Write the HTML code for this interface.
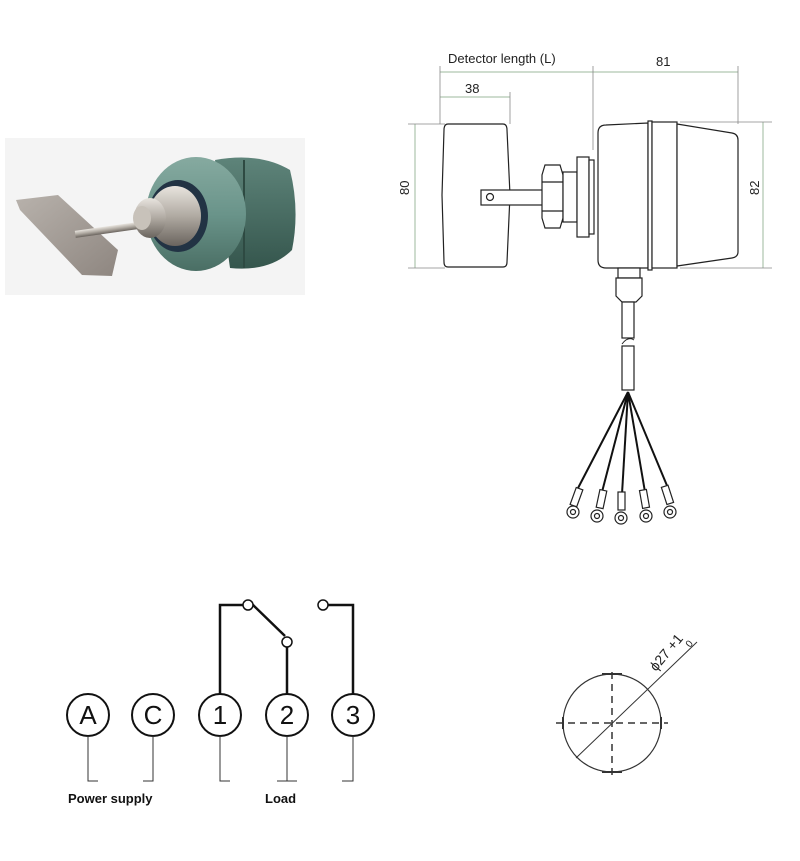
<!DOCTYPE html>
<html><head><meta charset="utf-8"><style>html,body{margin:0;padding:0;background:#fff}svg{display:block}</style></head>
<body>
<svg width="800" height="861" viewBox="0 0 800 861" xmlns="http://www.w3.org/2000/svg" font-family="Liberation Sans, sans-serif">
<defs>
<linearGradient id="teal" x1="0" y1="0" x2="0" y2="1"><stop offset="0" stop-color="#86aaa0"/><stop offset="0.5" stop-color="#6a948a"/><stop offset="1" stop-color="#4a6e64"/></linearGradient>
<linearGradient id="tealb" x1="0" y1="0" x2="0" y2="1"><stop offset="0" stop-color="#5e847a"/><stop offset="1" stop-color="#35564d"/></linearGradient>
<linearGradient id="plate" x1="0" y1="0" x2="1" y2="1"><stop offset="0" stop-color="#b8b2ac"/><stop offset="1" stop-color="#8e8680"/></linearGradient>
<linearGradient id="steel" x1="0" y1="0" x2="0" y2="1"><stop offset="0" stop-color="#e8e4de"/><stop offset="0.5" stop-color="#b0aaa2"/><stop offset="1" stop-color="#6a645e"/></linearGradient>
</defs>
<!-- photo -->
<rect x="5" y="138" width="300" height="157" fill="#f4f4f4"/>
<path d="M215,160 Q260,152 290,170 Q300,210 292,250 Q270,272 230,268 Z" fill="url(#tealb)"/>
<line x1="244" y1="160" x2="244" y2="268" stroke="#2e4a42" stroke-width="2"/>
<ellipse cx="196" cy="214" rx="50" ry="57" fill="url(#teal)"/>
<ellipse cx="178" cy="216" rx="30" ry="36" fill="#234"/>
<ellipse cx="175" cy="216" rx="26" ry="30" fill="url(#steel)"/>
<polygon points="16,200 58,195 118,250 112,276 82,275 20,210" fill="url(#plate)"/>
<rect x="75" y="226" width="70" height="7" fill="url(#steel)" transform="rotate(-8 110 230)"/>
<ellipse cx="150" cy="218" rx="16" ry="20" fill="url(#steel)"/>
<ellipse cx="142" cy="218" rx="9" ry="12" fill="#c8c2ba"/>
<!-- dimension lines -->
<g stroke="#9db89d" stroke-width="1" fill="none">
<line x1="440" y1="72" x2="593" y2="72"/><line x1="593" y1="72" x2="738" y2="72"/>
<line x1="440" y1="97" x2="510" y2="97"/>
<line x1="415" y1="124" x2="415" y2="268"/>
<line x1="763" y1="122" x2="763" y2="268"/>
</g>
<g stroke="#888" stroke-width="0.8" fill="none">
<line x1="440" y1="66" x2="440" y2="124"/><line x1="510" y1="92" x2="510" y2="124"/>
<line x1="593" y1="66" x2="593" y2="150"/><line x1="738" y1="66" x2="738" y2="124"/>
<line x1="408" y1="124" x2="445" y2="124"/><line x1="408" y1="268" x2="445" y2="268"/>
<line x1="680" y1="122" x2="772" y2="122"/><line x1="680" y1="268" x2="772" y2="268"/>
</g>
<text x="448" y="63" font-size="13" fill="#222">Detector length (L)</text>
<text x="656" y="66" font-size="13" fill="#222">81</text>
<text x="465" y="93" font-size="13" fill="#222">38</text>
<text transform="translate(409,195) rotate(-90)" font-size="13" fill="#222">80</text>
<text transform="translate(759,195) rotate(-90)" font-size="13" fill="#222">82</text>
<!-- device drawing -->
<g stroke="#222" stroke-width="1.2" fill="#fff">
<path d="M448,124 L503,124 Q507,124 507,130 L510,195 L507,262 Q507,267 503,267 L448,267 Q444,267 444,262 L442,195 L444,130 Q444,124 448,124 Z"/>
<rect x="481" y="190" width="62" height="15"/>
<circle cx="490" cy="197" r="3.5"/>
<path d="M545,165 L560,165 L563,175 L563,218 L560,228 L545,228 L542,218 L542,175 Z"/>
<line x1="542" y1="182" x2="563" y2="182"/><line x1="542" y1="211" x2="563" y2="211"/>
<rect x="563" y="172" width="14" height="50"/>
<rect x="577" y="157" width="12" height="80"/>
<rect x="589" y="160" width="5" height="74"/>
<path d="M606,125 L648,123 L648,268 L606,268 Q598,268 598,260 L598,133 Q598,125 606,125 Z"/>
<rect x="648" y="121" width="4" height="149"/>
<rect x="652" y="122" width="25" height="146"/>
<path d="M677,124 L732,133 Q738,134 738,140 L738,252 Q738,257 732,258 L677,266 Z"/>
<rect x="618" y="268" width="22" height="10"/>
<path d="M616,278 L642,278 L642,296 L636,302 L622,302 L616,296 Z"/>
<rect x="622" y="302" width="12" height="36"/>
<rect x="622" y="346" width="12" height="44"/>
</g>
<path d="M622,344 Q628,336 634,340" stroke="#222" fill="none"/>
<g stroke="#111" stroke-width="2" fill="none">
<line x1="628" y1="392" x2="577" y2="490"/>
<line x1="628" y1="392" x2="602" y2="492"/>
<line x1="628" y1="392" x2="622" y2="494"/>
<line x1="628" y1="392" x2="645" y2="492"/>
<line x1="628" y1="392" x2="668" y2="488"/>
</g>
<g stroke="#222" stroke-width="1.2" fill="#fff">
<rect x="573" y="488" width="7" height="18" transform="rotate(20 576 497)"/>
<rect x="598" y="490" width="7" height="18" transform="rotate(12 601 499)"/>
<rect x="618" y="492" width="7" height="18"/>
<rect x="641" y="490" width="7" height="18" transform="rotate(-10 644 499)"/>
<rect x="664" y="486" width="7" height="18" transform="rotate(-18 667 495)"/>
<circle cx="573" cy="512" r="6"/><circle cx="597" cy="516" r="6"/><circle cx="621" cy="518" r="6"/><circle cx="646" cy="516" r="6"/><circle cx="670" cy="512" r="6"/>
<circle cx="573" cy="512" r="2.5"/><circle cx="597" cy="516" r="2.5"/><circle cx="621" cy="518" r="2.5"/><circle cx="646" cy="516" r="2.5"/><circle cx="670" cy="512" r="2.5"/>
</g>
<!-- terminals -->
<g stroke="#111" stroke-width="2" fill="#fff">
<circle cx="88" cy="715" r="21"/><circle cx="153" cy="715" r="21"/><circle cx="220" cy="715" r="21"/><circle cx="287" cy="715" r="21"/><circle cx="353" cy="715" r="21"/>
</g>
<g stroke="#111" stroke-width="2.5" fill="none">
<polyline points="220,694 220,605 243,605"/>
<line x1="252" y1="604" x2="285" y2="636"/>
<line x1="287" y1="646" x2="287" y2="694"/>
<polyline points="327,605 353,605 353,694"/>
</g>
<g stroke="#111" stroke-width="1.5" fill="#fff">
<circle cx="248" cy="605" r="5"/><circle cx="287" cy="642" r="5"/><circle cx="323" cy="605" r="5"/>
</g>
<g stroke="#333" stroke-width="1" fill="none">
<polyline points="88,736 88,781 98,781"/><polyline points="153,736 153,781 143,781"/>
<polyline points="220,736 220,781 230,781"/><line x1="287" y1="736" x2="287" y2="781"/><line x1="277" y1="781" x2="297" y2="781"/>
<polyline points="353,736 353,781 342,781"/>
</g>
<g font-size="26" text-anchor="middle" fill="#111">
<text x="88" y="724">A</text><text x="153" y="724">C</text><text x="220" y="724">1</text><text x="287" y="724">2</text><text x="353" y="724">3</text>
</g>
<text x="68" y="803" font-size="13" font-weight="bold" fill="#111">Power supply</text>
<text x="265" y="803" font-size="13" font-weight="bold" fill="#111">Load</text>
<!-- hole -->
<circle cx="612" cy="723" r="49" fill="none" stroke="#333" stroke-width="1.2"/>
<g stroke="#333" stroke-width="1.5" stroke-dasharray="7,5" fill="none">
<line x1="556" y1="723" x2="668" y2="723"/><line x1="612" y1="672" x2="612" y2="780"/>
</g>
<g stroke="#333" stroke-width="2"><line x1="602" y1="674" x2="622" y2="674"/><line x1="602" y1="772" x2="622" y2="772"/><line x1="563" y1="717" x2="563" y2="729"/><line x1="661" y1="717" x2="661" y2="729"/></g>
<line x1="576" y1="758" x2="697" y2="642" stroke="#333" stroke-width="1"/>
<text transform="translate(656,672) rotate(-50)" font-size="14" fill="#222">ϕ27 +1</text>
<text transform="translate(690,648) rotate(-50)" font-size="10" fill="#222">0</text>
</svg>
</body></html>
